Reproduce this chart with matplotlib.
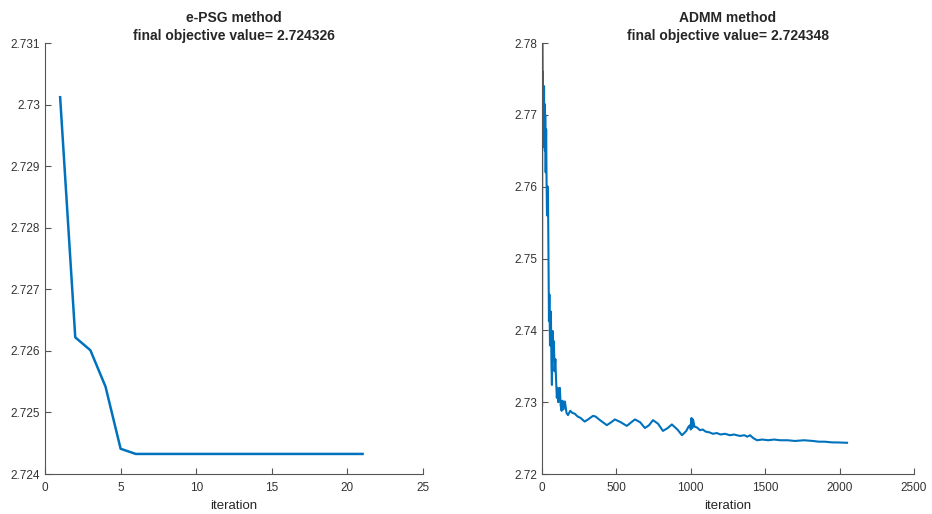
import matplotlib.pyplot as plt
from matplotlib.ticker import FuncFormatter

plt.rcParams['font.family'] = ['Liberation Sans', 'DejaVu Sans']

# e-PSG method
psg_iter = list(range(1, 22))
psg_obj = [2.73012, 2.72622, 2.72601, 2.72542, 2.72441] + [2.724326] * 16

# ADMM method
admm_iter = [1, 2, 4, 6, 8, 10, 12, 14, 16, 18, 20, 22, 25, 28, 31, 34, 37, 40, 44, 47,
             50, 54, 57, 60, 64, 67, 70, 72, 76, 80, 85, 90, 95, 100, 105, 110, 115, 120,
             126, 132, 138, 145, 154, 165, 175, 190, 205, 220, 240, 260, 287, 310, 343,
             360, 390, 436, 465, 490, 530, 570, 600, 625, 660, 692, 720, 746, 780, 813,
             845, 873, 910, 941, 970, 985, 995, 1000, 1005, 1010, 1015, 1025, 1040, 1062,
             1080, 1100, 1125, 1149, 1175, 1200, 1230, 1263, 1290, 1330, 1360, 1380, 1398,
             1420, 1445, 1480, 1520, 1560, 1600, 1650, 1700, 1760, 1821, 1860, 1900, 1950,
             1980, 2020, 2050]
admm_obj = [2.7295, 2.7800, 2.7700, 2.7760, 2.7662, 2.7726, 2.7680, 2.7740, 2.7655, 2.7715,
            2.7650, 2.7700, 2.7620, 2.7680, 2.7607, 2.7560, 2.7600, 2.7600, 2.7500, 2.7413,
            2.7450, 2.7379, 2.7410, 2.7426, 2.7350, 2.7324, 2.7380, 2.7399, 2.7360, 2.7385,
            2.7343, 2.7360, 2.7330, 2.7306, 2.7320, 2.7300, 2.7315, 2.7320, 2.7295, 2.7288,
            2.7302, 2.7290, 2.7301, 2.7285, 2.7282, 2.7288, 2.7285, 2.7284, 2.7280, 2.7278,
            2.7273, 2.7276, 2.7281, 2.7280, 2.7275, 2.7268, 2.7272, 2.7276, 2.7272, 2.7267,
            2.7272, 2.7276, 2.7272, 2.7264, 2.7268, 2.7275, 2.7270, 2.7260, 2.7264, 2.7269,
            2.7262, 2.7254, 2.7260, 2.7266, 2.7268, 2.7262, 2.7278, 2.7264, 2.7276, 2.7266,
            2.7265, 2.7261, 2.7262, 2.7259, 2.7258, 2.7256, 2.7257, 2.7255, 2.7256, 2.7254,
            2.7255, 2.7253, 2.7254, 2.7252, 2.7254, 2.7250, 2.7247, 2.7248, 2.7247, 2.7248,
            2.7247, 2.7247, 2.7246, 2.7247, 2.7246, 2.7245, 2.7245, 2.7244, 2.7244, 2.72437,
            2.724348]

line_color = '#0072BD'
axis_color = '#555555'
text_color = '#262626'

fig = plt.figure(figsize=(9.32, 5.14), dpi=100)
ax1 = fig.add_axes([0.0483, 0.0778, 0.4056, 0.8385])
ax2 = fig.add_axes([0.5815, 0.0778, 0.3992, 0.8385])

fmt = FuncFormatter(lambda v, p: '%g' % round(v, 6))


def style(ax):
    for s in ('top', 'right'):
        ax.spines[s].set_visible(False)
    for s in ('left', 'bottom'):
        ax.spines[s].set_color(axis_color)
        ax.spines[s].set_linewidth(0.8)
    ax.tick_params(direction='in', length=4, width=0.8, colors=axis_color,
                   labelcolor='#333333', labelsize=8.5)
    ax.tick_params(axis='x', pad=6)
    ax.yaxis.set_major_formatter(fmt)
    ax.set_xlabel('iteration', fontsize=9.5, color=text_color, labelpad=4)


ax1.plot(psg_iter, psg_obj, color=line_color, lw=1.8)
ax1.set_xlim(0, 25)
ax1.set_ylim(2.724, 2.731)
ax1.set_xticks([0, 5, 10, 15, 20, 25])
ax1.set_yticks([2.724, 2.725, 2.726, 2.727, 2.728, 2.729, 2.73, 2.731])
ax1.set_title('e-PSG method\nfinal objective value= 2.724326', fontsize=10,
              fontweight='bold', color=text_color, pad=2, linespacing=1.35)
style(ax1)

ax2.plot(admm_iter, admm_obj, color=line_color, lw=1.5)
ax2.set_xlim(0, 2500)
ax2.set_ylim(2.72, 2.78)
ax2.set_xticks([0, 500, 1000, 1500, 2000, 2500])
ax2.set_yticks([2.72, 2.73, 2.74, 2.75, 2.76, 2.77, 2.78])
ax2.set_title('ADMM method\nfinal objective value= 2.724348', fontsize=10,
              fontweight='bold', color=text_color, pad=2, linespacing=1.35)
style(ax2)

fig.savefig('out.png', dpi=100)
